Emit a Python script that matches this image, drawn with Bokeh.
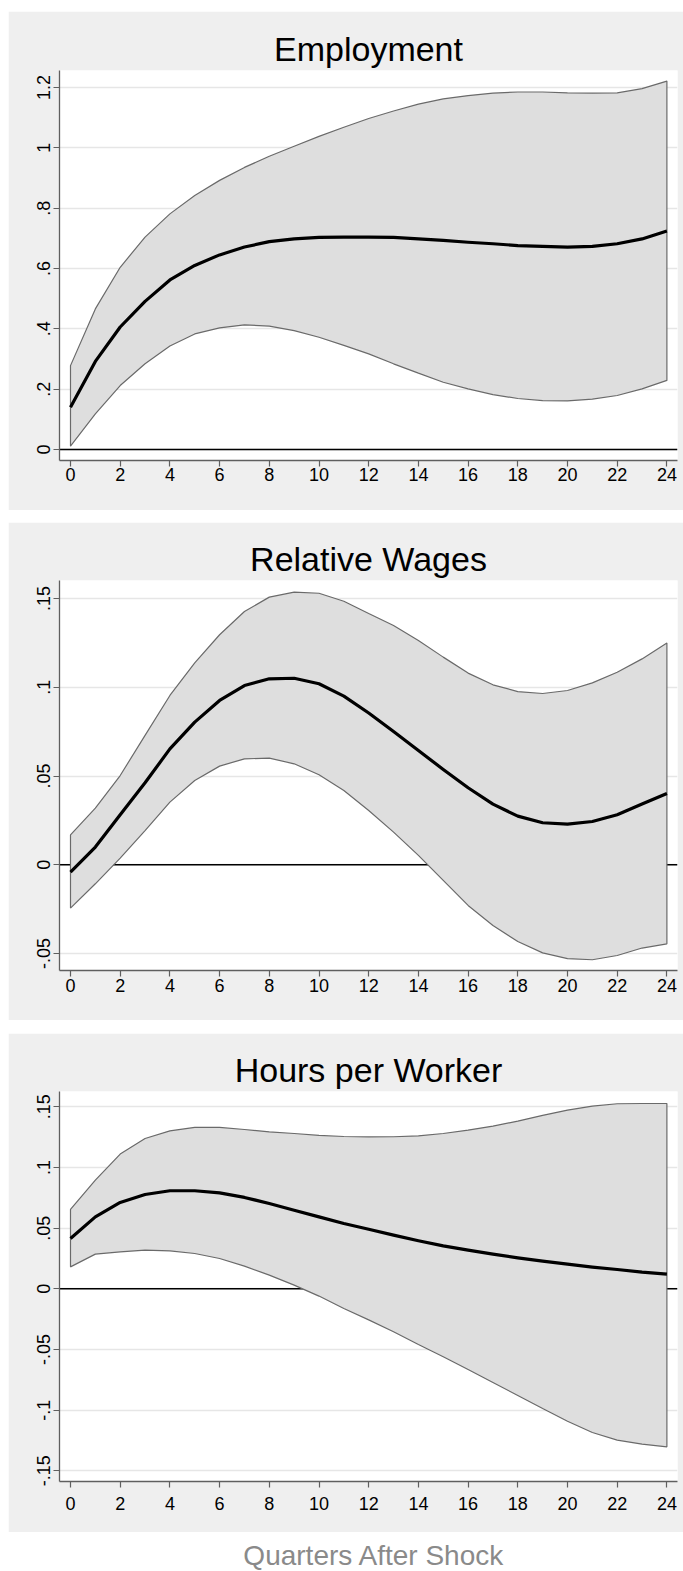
from bokeh.plotting import figure
from bokeh.layouts import column, row
from bokeh.models import Range1d, FixedTicker, Span, Label, Spacer
from bokeh.embed import file_html
from bokeh.resources import INLINE

quarters = list(range(25))

emp_mean = [0.140, 0.292, 0.406, 0.491, 0.562, 0.610, 0.645, 0.671, 0.689, 0.698, 0.703, 0.704, 0.704,
            0.703, 0.698, 0.693, 0.687, 0.682, 0.676, 0.673, 0.671, 0.673, 0.682, 0.698, 0.724]
emp_upper = [0.278, 0.466, 0.604, 0.704, 0.781, 0.842, 0.892, 0.935, 0.972, 1.005, 1.038, 1.068, 1.097,
             1.122, 1.145, 1.162, 1.173, 1.181, 1.185, 1.185, 1.182, 1.181, 1.182, 1.196, 1.221]
emp_lower = [0.011, 0.118, 0.212, 0.284, 0.343, 0.383, 0.403, 0.413, 0.409, 0.394, 0.372, 0.345, 0.317,
             0.284, 0.253, 0.223, 0.201, 0.182, 0.169, 0.162, 0.161, 0.167, 0.179, 0.201, 0.229]

wage_mean = [-0.0041, 0.0100, 0.0282, 0.0462, 0.0653, 0.0804, 0.0926, 0.1010, 0.1048, 0.1051, 0.1020,
             0.0950, 0.0855, 0.0751, 0.0644, 0.0537, 0.0434, 0.0342, 0.0274, 0.0237, 0.0229, 0.0244,
             0.0282, 0.0342, 0.0402]
wage_upper = [0.0169, 0.0319, 0.0503, 0.0729, 0.0954, 0.1138, 0.1296, 0.1427, 0.1508, 0.1536, 0.1530,
              0.1485, 0.1416, 0.1348, 0.1264, 0.1170, 0.1080, 0.1014, 0.0976, 0.0965, 0.0982, 0.1025,
              0.1085, 0.1160, 0.1249]
wage_lower = [-0.0244, -0.0107, 0.0038, 0.0193, 0.0353, 0.0475, 0.0556, 0.0597, 0.0601, 0.0569, 0.0507,
              0.0419, 0.0306, 0.0184, 0.0053, -0.0088, -0.0229, -0.0342, -0.0432, -0.0496, -0.0529,
              -0.0535, -0.0511, -0.0469, -0.0445]

hours_mean = [0.0415, 0.0593, 0.0712, 0.0777, 0.0808, 0.0808, 0.0791, 0.0753, 0.0703, 0.0648, 0.0593,
              0.0538, 0.0491, 0.0442, 0.0396, 0.0354, 0.0319, 0.0286, 0.0255, 0.0228, 0.0203, 0.0179,
              0.0159, 0.0137, 0.0121]
hours_upper = [0.0654, 0.0896, 0.1110, 0.1239, 0.1302, 0.1330, 0.1330, 0.1313, 0.1294, 0.1280, 0.1264,
               0.1255, 0.1252, 0.1253, 0.1261, 0.1280, 0.1308, 0.1341, 0.1382, 0.1429, 0.1473, 0.1505,
               0.1525, 0.1527, 0.1527]
hours_lower = [0.0181, 0.0286, 0.0305, 0.0319, 0.0313, 0.0291, 0.0250, 0.0187, 0.0113, 0.0030, -0.0060,
               -0.0162, -0.0256, -0.0354, -0.0459, -0.0560, -0.0665, -0.0772, -0.0879, -0.0986, -0.1091,
               -0.1184, -0.1247, -0.1280, -0.1302]

x_ticks = list(range(0, 25, 2))
emp_ticks = [0, 0.2, 0.4, 0.6, 0.8, 1.0, 1.2]
emp_labels = ["0", ".2", ".4", ".6", ".8", "1", "1.2"]
wage_ticks = [-0.05, 0, 0.05, 0.1, 0.15]
wage_labels = ["-.05", "0", ".05", ".1", ".15"]
hours_ticks = [-0.15, -0.1, -0.05, 0, 0.05, 0.1, 0.15]
hours_labels = ["-.15", "-.1", "-.05", "0", ".05", ".1", ".15"]

FONT = "Liberation Sans"
BG = "#efefef"


def panel(title, mean, upper, lower, ticks, labels, yr, height, top, bottom, xstand):
    p = figure(width=675, height=height, output_backend="svg", toolbar_location=None,
               x_range=Range1d(-0.4427, 24.4266), y_range=Range1d(*yr),
               min_border_left=51, min_border_right=6, min_border_top=top, min_border_bottom=bottom,
               background_fill_color="white", border_fill_color=BG, outline_line_color=None,
               title=title)
    p.title.align = "center"
    p.title.text_font = FONT
    p.title.text_font_size = "34px"
    p.title.text_font_style = "normal"
    p.title.text_color = "black"
    p.title.standoff = 5

    p.xgrid.visible = False
    p.ygrid.grid_line_color = "#e6e6e6"
    p.ygrid.grid_line_width = 1.5
    p.ygrid.ticker = FixedTicker(ticks=ticks)

    p.xaxis.ticker = FixedTicker(ticks=x_ticks)
    p.yaxis.ticker = FixedTicker(ticks=ticks)
    p.yaxis.major_label_overrides = {t: l for t, l in zip(ticks, labels)}
    p.yaxis.major_label_orientation = "vertical"
    for ax in (p.xaxis[0], p.yaxis[0]):
        ax.axis_line_color = "#5f5f5f"
        ax.axis_line_width = 1.3
        ax.major_tick_line_color = "#5f5f5f"
        ax.major_tick_line_width = 1.2
        ax.major_tick_out = 6
        ax.major_tick_in = 0
        ax.minor_tick_line_color = None
        ax.major_label_text_font = FONT
        ax.major_label_text_font_size = "18px"
        ax.major_label_text_color = "black"
    p.xaxis.major_label_standoff = xstand
    p.yaxis.major_label_standoff = 3

    zero = Span(location=0, dimension="width", line_color="black", line_width=1.6, level="underlay")
    p.add_layout(zero)

    xs = quarters + quarters[::-1]
    ys = list(upper) + list(lower)[::-1]
    p.patch(xs, ys, fill_color="#dedede", line_color="#6a6a6a", line_width=1.2)
    p.line(quarters, mean, line_color="black", line_width=3.2, line_join="round")
    return p


p1 = panel("Employment", emp_mean, emp_upper, emp_lower, emp_ticks, emp_labels,
           (-0.03646, 1.2562), 499, 59, 50, 1)
p2 = panel("Relative Wages", wage_mean, wage_upper, wage_lower, wage_ticks, wage_labels,
           (-0.05955, 0.16017), 498, 58, 50, 2)
p3 = panel("Hours per Worker", hours_mean, hours_upper, hours_lower, hours_ticks, hours_labels,
           (-0.1588, 0.1626), 499, 58, 51, 9)

p4 = figure(width=675, height=38, output_backend="svg", toolbar_location=None, title=None,
            x_range=Range1d(0, 675), y_range=Range1d(0, 38), min_border=0,
            x_axis_type=None, y_axis_type=None,
            background_fill_color="white", border_fill_color="white", outline_line_color=None)
p4.add_layout(Label(x=343.6, y=15, text="Quarters After Shock", text_font=FONT,
                    text_font_size="28px", text_color="#8a8a8a", text_align="center",
                    text_baseline="alphabetic"))

stack = column(Spacer(width=675, height=11), p1, Spacer(width=675, height=12), p2,
               Spacer(width=675, height=13), p3, p4)
layout = row(Spacer(width=8, height=1570), stack)

open("out.html", "w").write(file_html(layout, INLINE))
